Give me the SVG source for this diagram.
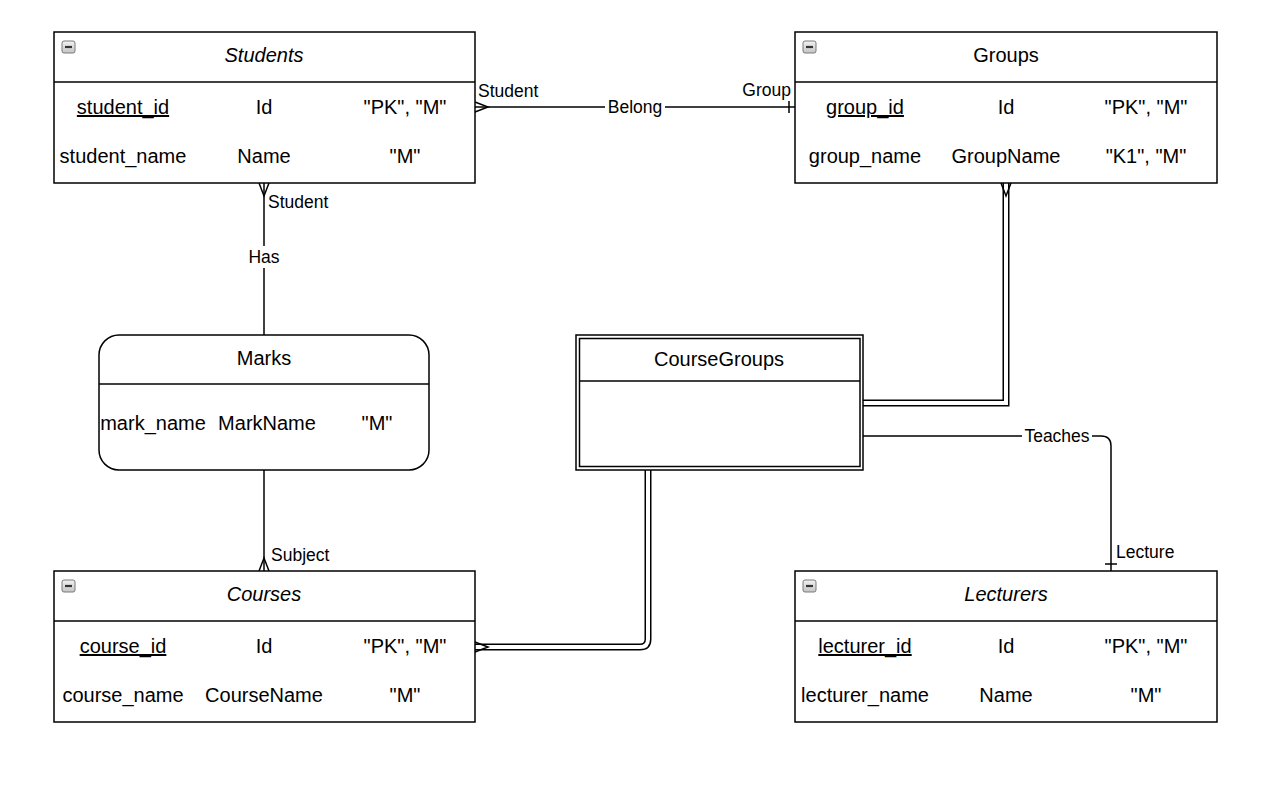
<svg xmlns="http://www.w3.org/2000/svg" width="1280" height="787" viewBox="0 0 1280 787">
<style>
  .box{fill:#fff;stroke:#000;stroke-width:1.5}
  .ln{fill:none;stroke:#000;stroke-width:1.5}
  .t{font-family:"Liberation Sans",Arial,sans-serif;font-size:20px;fill:#000;text-anchor:middle}
  .it{font-style:italic}
  .u{text-decoration:underline}
  .lb{font-family:"Liberation Sans",Arial,sans-serif;font-size:17.5px;fill:#000}
  .dblo{fill:none;stroke:#000;stroke-width:7}
  .dbli{fill:none;stroke:#fff;stroke-width:4}
  .ico{fill:url(#icog);stroke:#7a7a7a;stroke-width:1}
  .icm{stroke:#333;stroke-width:2.2}
</style>
<defs>
  <linearGradient id="icog" x1="0" y1="0" x2="0" y2="1">
    <stop offset="0" stop-color="#f2f2f2"/>
    <stop offset="1" stop-color="#c4c4c4"/>
  </linearGradient>
  <g id="minus">
    <rect class="ico" x="0" y="0" width="13" height="12" rx="2"/>
    <line class="icm" x1="3" y1="6" x2="10" y2="6"/>
  </g>
</defs>
<rect width="1280" height="787" fill="#fff"/>

<g id="connectors">
  <!-- Students - Groups -->
  <line class="ln" x1="475" y1="107" x2="795" y2="107"/>
  <path class="ln" d="M475,102 L488,107 L475,112"/>
  <line class="ln" x1="789" y1="101" x2="789" y2="113"/>
  <rect x="605" y="96" width="60" height="22" fill="#fff"/>
  <text class="lb" x="635" y="113" text-anchor="middle">Belong</text>
  <text class="lb" x="478" y="97">Student</text>
  <text class="lb" x="791" y="96" text-anchor="end">Group</text>

  <!-- Students - Marks -->
  <line class="ln" x1="264" y1="183" x2="264" y2="335"/>
  <path class="ln" d="M259,183 L264,196 L269,183"/>
  <rect x="246" y="246" width="36" height="22" fill="#fff"/>
  <text class="lb" x="264" y="263" text-anchor="middle">Has</text>
  <text class="lb" x="268" y="208">Student</text>

  <!-- Marks - Courses -->
  <line class="ln" x1="264" y1="470" x2="264" y2="571"/>
  <path class="ln" d="M259,571 L264,558 L269,571"/>
  <text class="lb" x="271" y="561">Subject</text>

  <!-- CourseGroups - Groups (double) -->
  <path class="dblo" d="M863,403 L1006,403 L1006,183"/>
  <path class="dbli" d="M863,403 L1006,403 L1006,183"/>
  <path class="ln" d="M1001,183 L1006,196 L1011,183"/>

  <!-- CourseGroups - Courses (double) -->
  <path class="dblo" d="M648,470 L648,639 Q648,647 640,647 L475,647"/>
  <path class="dbli" d="M648,470 L648,639 Q648,647 640,647 L475,647"/>
  <path class="ln" d="M475,642 L488,647 L475,652"/>

  <!-- CourseGroups - Lecturers -->
  <path class="ln" d="M863,436 L1101,436 Q1111,436 1111,446 L1111,571"/>
  <line class="ln" x1="1105" y1="564" x2="1117" y2="564"/>
  <rect x="1022" y="425" width="70" height="22" fill="#fff"/>
  <text class="lb" x="1057" y="442" text-anchor="middle">Teaches</text>
  <text class="lb" x="1116" y="558">Lecture</text>
</g>

<g id="students">
  <rect class="box" x="54" y="32" width="421" height="151"/>
  <line class="ln" x1="54" y1="82" x2="475" y2="82"/>
  <use href="#minus" x="62" y="41"/>
  <text class="t it" x="264" y="62">Students</text>
  <text class="t u" x="123" y="114">student_id</text>
  <text class="t" x="264" y="114">Id</text>
  <text class="t" x="405" y="114">"PK", "M"</text>
  <text class="t" x="123" y="163">student_name</text>
  <text class="t" x="264" y="163">Name</text>
  <text class="t" x="405" y="163">"M"</text>
</g>

<g id="groups">
  <rect class="box" x="795" y="32" width="422" height="151"/>
  <line class="ln" x1="795" y1="82" x2="1217" y2="82"/>
  <use href="#minus" x="803" y="41"/>
  <text class="t" x="1006" y="62">Groups</text>
  <text class="t u" x="865" y="114">group_id</text>
  <text class="t" x="1006" y="114">Id</text>
  <text class="t" x="1146" y="114">"PK", "M"</text>
  <text class="t" x="865" y="163">group_name</text>
  <text class="t" x="1006" y="163">GroupName</text>
  <text class="t" x="1146" y="163">"K1", "M"</text>
</g>

<g id="marks">
  <rect class="box" x="99" y="335" width="330" height="135" rx="20" ry="20"/>
  <line class="ln" x1="99" y1="384" x2="429" y2="384"/>
  <text class="t" x="264" y="365">Marks</text>
  <text class="t" x="153" y="430">mark_name</text>
  <text class="t" x="267" y="430">MarkName</text>
  <text class="t" x="377" y="430">"M"</text>
</g>

<g id="coursegroups">
  <rect class="box" x="576" y="335" width="287" height="135"/>
  <rect class="box" x="579.5" y="338.5" width="280.5" height="128"/>
  <line class="ln" x1="579.5" y1="381" x2="860" y2="381"/>
  <text class="t" x="719" y="366">CourseGroups</text>
</g>

<g id="courses">
  <rect class="box" x="54" y="571" width="421" height="151"/>
  <line class="ln" x1="54" y1="621" x2="475" y2="621"/>
  <use href="#minus" x="62" y="580"/>
  <text class="t it" x="264" y="601">Courses</text>
  <text class="t u" x="123" y="653">course_id</text>
  <text class="t" x="264" y="653">Id</text>
  <text class="t" x="405" y="653">"PK", "M"</text>
  <text class="t" x="123" y="702">course_name</text>
  <text class="t" x="264" y="702">CourseName</text>
  <text class="t" x="405" y="702">"M"</text>
</g>

<g id="lecturers">
  <rect class="box" x="795" y="571" width="422" height="151"/>
  <line class="ln" x1="795" y1="621" x2="1217" y2="621"/>
  <use href="#minus" x="803" y="580"/>
  <text class="t it" x="1006" y="601">Lecturers</text>
  <text class="t u" x="865" y="653">lecturer_id</text>
  <text class="t" x="1006" y="653">Id</text>
  <text class="t" x="1146" y="653">"PK", "M"</text>
  <text class="t" x="865" y="702">lecturer_name</text>
  <text class="t" x="1006" y="702">Name</text>
  <text class="t" x="1146" y="702">"M"</text>
</g>
</svg>
